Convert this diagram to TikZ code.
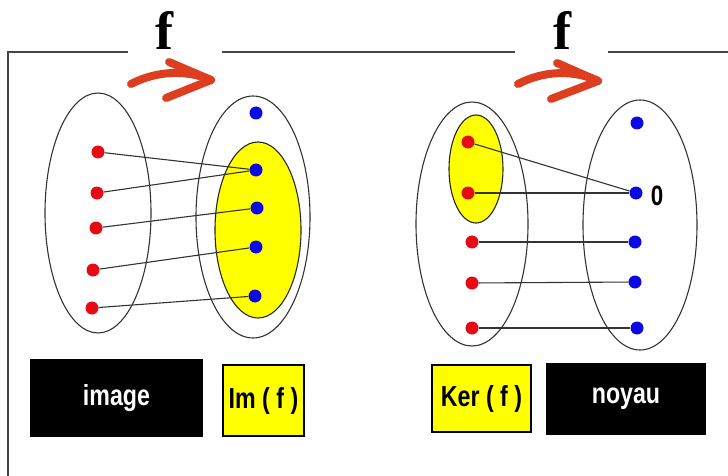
\documentclass[tikz,border=0pt]{standalone}
\usepackage{fontspec}
\usetikzlibrary{shapes.geometric}
\newfontfamily\boxfont{Liberation Sans}[FakeStretch=0.8]
\newfontfamily\mapfont{Liberation Serif}
\definecolor{DotRed}{RGB}{230,10,20}
\definecolor{DotBlue}{RGB}{10,10,225}
\definecolor{BrushRed}{RGB}{222,62,32}
\definecolor{FrameGray}{RGB}{70,70,70}
\definecolor{SetYellow}{RGB}{255,255,0}
\tikzset{
  src/.style={circle,fill=DotRed,inner sep=0pt,minimum size=13},
  dst/.style={circle,fill=DotBlue,inner sep=0pt,minimum size=13},
  setshape/.style={ellipse,draw=black!80,line width=1.1pt,inner sep=0pt},
  subset/.style={ellipse,draw=black!85,fill=SetYellow,line width=1.1pt,inner sep=0pt},
  map/.style={draw=black!80,line width=1.1pt},
  darkbox/.style={fill=black,text=white,inner sep=0pt,
    font=\boxfont\bfseries\fontsize{29}{29}\selectfont},
  yellowbox/.style={draw=black,fill=SetYellow,line width=1.6pt,inner sep=0pt,
    font=\boxfont\bfseries\fontsize{29}{29}\selectfont},
  brush/.style={BrushRed,line width=8pt,line cap=round,line join=round},
  frame/.style={FrameGray,line width=2pt}
}

\begin{document}
\begin{tikzpicture}[x=1pt,y=-1pt]
\useasboundingbox (0,0) rectangle (728,476);

% frame with the two titles
\draw[frame] (8,476) -- (8,52) -- (128,52);
\draw[frame] (222,52) -- (515,52);
\draw[frame] (608,52) -- (728,52);
\node[font=\mapfont\bfseries\fontsize{54}{54}\selectfont] (f1) at (164,30) {f};
\node[font=\mapfont\bfseries\fontsize{54}{54}\selectfont] (f2) at (562,30) {f};

% red brush arrows
\draw[brush] (131,84) .. controls (158,70) and (188,70) .. (211,80);
\draw[brush] (169,62) -- (211,80) -- (166,98);
\draw[brush] (518,84) .. controls (545,70) and (575,70) .. (598,81);
\draw[brush] (557,63) -- (598,81) -- (551,99);

% image
\node[setshape,minimum width=106,minimum height=240] (A) at (98,213) {};
\node[setshape,minimum width=114,minimum height=242] (B) at (253,217) {};
\node[subset,minimum width=86,minimum height=176] (Im) at (258,230) {};

\node[src] (a1) at (98,152) {};
\node[src] (a2) at (97,193) {};
\node[src] (a3) at (96,228) {};
\node[src] (a4) at (93,270) {};
\node[src] (a5) at (92,308) {};

\node[dst] (b0) at (256,113) {};
\node[dst] (b1) at (256,170) {};
\node[dst] (b2) at (257,208) {};
\node[dst] (b3) at (256,247) {};
\node[dst] (b4) at (255,296) {};

\draw[map] (a1) -- (b1);
\draw[map] (a2) -- (b1);
\draw[map] (a3) -- (b2);
\draw[map] (a4) -- (b3);
\draw[map] (a5) -- (b4);

% noyau
\node[setshape,minimum width=112,minimum height=244] (C) at (472,224) {};
\node[setshape,minimum width=114,minimum height=250] (D) at (640,225) {};
\node[subset,minimum width=54,minimum height=108] (Ker) at (476,169) {};

\node[src] (c1) at (468,142) {};
\node[src] (c2) at (468,193) {};
\node[src] (c3) at (472,242) {};
\node[src] (c4) at (472,283) {};
\node[src] (c5) at (472,328) {};

\node[dst] (d0) at (637,123) {};
\node[dst] (d1) at (636,193) {};
\node[dst] (d2) at (635,242) {};
\node[dst] (d3) at (635,282) {};
\node[dst] (d4) at (637,328) {};
\node[font=\boxfont\bfseries\fontsize{28}{28}\selectfont] (zero) at (657,196) {0};

\draw[map] (c1) -- (d1);
\draw[map] (c2) -- (d1);
\draw[map] (c3) -- (d2);
\draw[map] (c4) -- (d3);
\draw[map] (c5) -- (d4);

% captions
\node[darkbox,minimum width=173,minimum height=78] (img) at (116.5,398) {image};
\node[yellowbox,minimum width=81,minimum height=71] (imf) at (263.5,400.5) {Im ( f )};
\node[yellowbox,minimum width=99,minimum height=67] (kerf) at (481.5,398.5) {Ker ( f )};
\node[darkbox,minimum width=160,minimum height=72] (noy) at (626,399) {noyau};

\end{tikzpicture}
\end{document}
